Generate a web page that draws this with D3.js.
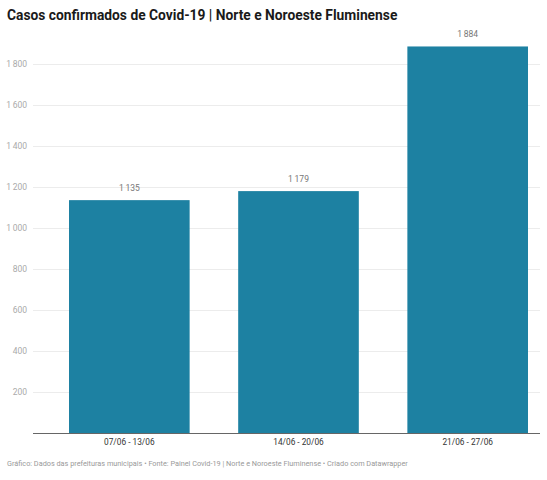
<!DOCTYPE html>
<html>
<head>
<meta charset="utf-8">
<script src="https://cdn.jsdelivr.net/npm/d3@7"></script>
<style>
  body { margin: 0; background: #fff; font-family: Roboto, sans-serif; }
  svg { display: block; }
</style>
</head>
<body>
<div id="chart"></div>
<script>
const categories = ['07/06 - 13/06', '14/06 - 20/06', '21/06 - 27/06'];
const values = [1135, 1179, 1884];
const yTicks = [200, 400, 600, 800, 1000, 1200, 1400, 1600, 1800];

const title = 'Casos confirmados de Covid-19 | Norte e Noroeste Fluminense';
const footer = 'Gráfico: Dados das prefeituras municipais • Fonte: Painel Covid-19 | Norte e Noroeste Fluminense • Criado com Datawrapper';

const width = 547;
const height = 480;
const plot = { left: 33, right: 540, top: 63.7, bottom: 433 };

const fmt = d3.formatLocale({ decimal: ',', thousands: '\u2009', grouping: [3], currency: ['', ''] }).format(',d');

const svg = d3
  .select('#chart')
  .append('svg')
  .attr('width', width)
  .attr('height', height);

const x = d3
  .scaleBand()
  .domain(categories)
  .range([57, plot.right])
  .paddingInner(0.287)
  .paddingOuter(0.071);

const y = d3
  .scaleLinear()
  .domain([0, 1800])
  .range([plot.bottom, plot.top]);

// title
svg
  .append('text')
  .attr('x', 7)
  .attr('y', 20)
  .style('font-size', '13.8px')
  .style('font-weight', 700)
  .style('fill', '#1a1a1a')
  .text(title);

// grid
const grid = svg.append('g');
grid
  .selectAll('line')
  .data(yTicks)
  .enter()
  .append('line')
  .attr('x1', plot.left)
  .attr('x2', plot.right)
  .attr('y1', d => Math.round(y(d)) + 0.5)
  .attr('y2', d => Math.round(y(d)) + 0.5)
  .style('stroke', '#ececec')
  .style('stroke-width', 1);

grid
  .selectAll('text')
  .data(yTicks)
  .enter()
  .append('text')
  .attr('x', 27)
  .attr('y', d => y(d) + 3)
  .attr('text-anchor', 'end')
  .style('font-size', '8.5px')
  .style('fill', '#aaa')
  .text(d => fmt(d));

// bars
svg
  .append('g')
  .selectAll('rect')
  .data(values)
  .enter()
  .append('rect')
  .attr('x', (d, i) => x(categories[i]))
  .attr('y', d => y(d))
  .attr('width', x.bandwidth())
  .attr('height', d => y(0) - y(d))
  .style('fill', '#1d81a2');

// value labels
svg
  .append('g')
  .selectAll('text')
  .data(values)
  .enter()
  .append('text')
  .attr('x', (d, i) => x(categories[i]) + x.bandwidth() / 2)
  .attr('y', d => y(d) - 9)
  .attr('text-anchor', 'middle')
  .style('font-size', '8.5px')
  .style('fill', '#777')
  .text(d => fmt(d));

// baseline
svg
  .append('line')
  .attr('x1', plot.left)
  .attr('x2', plot.right)
  .attr('y1', plot.bottom + 0.5)
  .attr('y2', plot.bottom + 0.5)
  .style('stroke', '#666')
  .style('stroke-width', 1);

// x labels
const xAxis = svg
  .append('g')
  .attr('transform', `translate(0,${plot.bottom})`)
  .call(d3.axisBottom(x).tickSize(0).tickPadding(6));
xAxis.select('.domain').remove();
xAxis
  .selectAll('text')
  .style('font-family', 'Roboto, sans-serif')
  .style('font-size', '8.3px')
  .style('fill', '#333');

// footer
svg
  .append('text')
  .attr('x', 7)
  .attr('y', 466)
  .style('font-size', '7.3px')
  .style('fill', '#999')
  .text(footer);
</script>
</body>
</html>
